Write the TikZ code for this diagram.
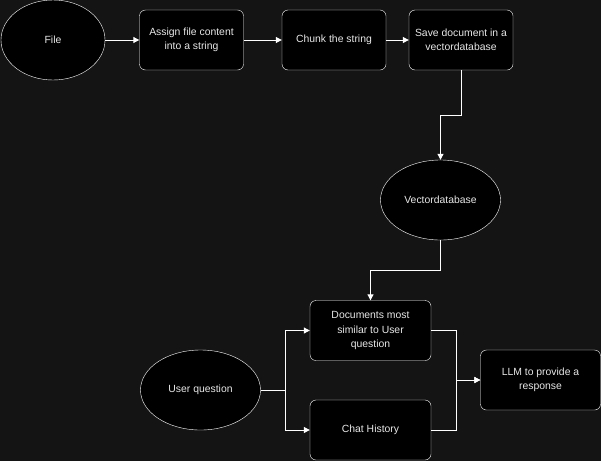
\documentclass[tikz,border=0pt]{standalone}
\usepackage{fontspec}
\setmainfont{Liberation Sans}
\usetikzlibrary{arrows.meta,shapes.geometric}
\definecolor{bgcol}{HTML}{141414}
\definecolor{txtcol}{HTML}{E8E8E8}
\tikzset{
  box/.style={draw=white, fill=black, rounded corners=6pt, minimum width=104pt, minimum height=60pt, align=center, font=\fontsize{10.4}{14.4}\selectfont, text=txtcol, inner sep=2pt},
  oval/.style={draw=white, fill=black, ellipse, minimum width=120pt, minimum height=80pt, font=\fontsize{10.4}{14.4}\selectfont, text=txtcol, inner sep=1pt},
  arr/.style={draw=white, line width=1pt, -{Triangle[width=6pt,length=6pt]}}
}
\begin{document}
\begin{tikzpicture}[x=1pt,y=-1pt]
\useasboundingbox[fill=bgcol] (0,0) rectangle (601,461);
\node[oval, minimum width=104pt](file) at (53,40){File};
\node[box](assign) at (191.5,40){Assign file content\\into a string};
\node[box](chunk) at (334,40){Chunk the string};
\node[box](save) at (461,40){Save document in a\\vectordatabase};
\node[oval](vdb) at (440.5,200){Vectordatabase};
\node[box, minimum width=121pt](docs) at (370.5,330.5){Documents most\\similar to User\\question};
\node[box, minimum width=121pt](chat) at (370.5,430){Chat History};
\node[oval](user) at (200.5,390){User question};
\node[box, minimum width=120pt](llm) at (540.5,380){LLM to provide a\\response};
\draw[arr] (file)--(assign);
\draw[arr] (assign)--(chunk);
\draw[arr] (chunk)--(save);
\draw[arr] (save.south)--++(0,45)-|(vdb.north);
\draw[arr] (vdb.south)--++(0,30)-|(docs.north);
\draw[arr] (user.east)--++(25,0)|-(docs.west);
\draw[arr] (user.east)--++(25,0)|-(chat.west);
\draw[arr] (docs.east)--++(25,0)|-(llm.west);
\draw[arr] (chat.east)--++(25,0)|-(llm.west);
\end{tikzpicture}
\end{document}
